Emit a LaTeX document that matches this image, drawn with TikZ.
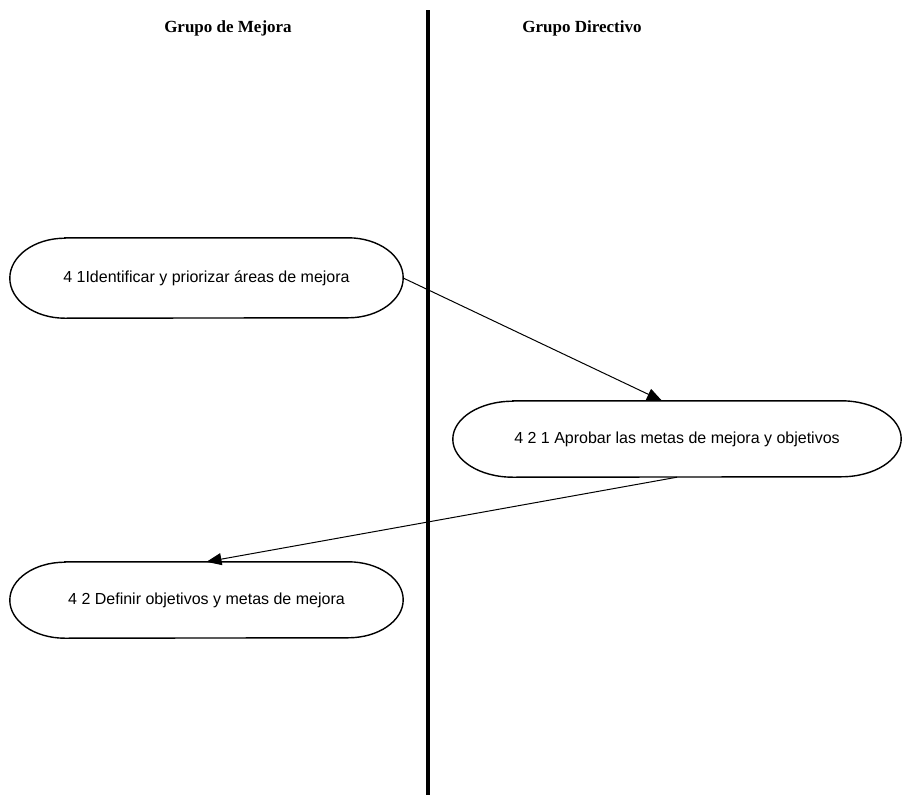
\documentclass[tikz,border=0pt]{standalone}
\usepackage{fontspec}
\setmainfont{Liberation Serif}
\newfontfamily\boxfont{Liberation Sans}
\usetikzlibrary{arrows.meta}
\begin{document}
\begin{tikzpicture}[x=1pt,y=-1pt,
  lane/.style={font=\bfseries\fontsize{17}{19}\selectfont},
  activity/.style={minimum height=76pt,inner sep=0pt,font=\boxfont\fontsize{16}{18}\selectfont},
  outline/.style={line width=1.4pt},
  flow/.style={line width=1pt,-{Triangle[length=15pt,width=12pt]}}]
\useasboundingbox (0,0) rectangle (903,795);
% swimlane divider
\draw[line width=3.5pt] (428,10) -- (428,795);
\node[lane] (mejora) at (228,28) {Grupo de Mejora};
\node[lane] (directivo) at (582,28) {Grupo Directivo};
% activities
\node[activity,minimum width=393pt,minimum height=80pt] (n1) at (206.5,278) {4 1Identificar y priorizar áreas de mejora};
\node[activity,minimum width=448pt] (n2) at (677,439) {4 2 1 Aprobar las metas de mejora y objetivos};
\node[activity,minimum width=393pt] (n3) at (206.5,600) {4 2 Definir objetivos y metas de mejora};
% outlines with half-elliptic ends
\draw[outline] ([xshift=55pt]n1.north west) -- ([xshift=-55pt]n1.north east)
  arc[start angle=90,end angle=-90,x radius=55pt,y radius=40pt]
  -- ([xshift=55pt]n1.south west)
  arc[start angle=270,end angle=90,x radius=55pt,y radius=40pt] -- cycle;
\draw[outline] ([xshift=60pt]n2.north west) -- ([xshift=-60pt]n2.north east)
  arc[start angle=90,end angle=-90,x radius=60pt,y radius=38pt]
  -- ([xshift=60pt]n2.south west)
  arc[start angle=270,end angle=90,x radius=60pt,y radius=38pt] -- cycle;
\draw[outline] ([xshift=55pt]n3.north west) -- ([xshift=-55pt]n3.north east)
  arc[start angle=90,end angle=-90,x radius=55pt,y radius=38pt]
  -- ([xshift=55pt]n3.south west)
  arc[start angle=270,end angle=90,x radius=55pt,y radius=38pt] -- cycle;
% flows
\draw[flow] (n1.east) -- ([xshift=-15pt]n2.north);
\draw[flow] (n2.south) -- (n3.north);
\end{tikzpicture}
\end{document}
